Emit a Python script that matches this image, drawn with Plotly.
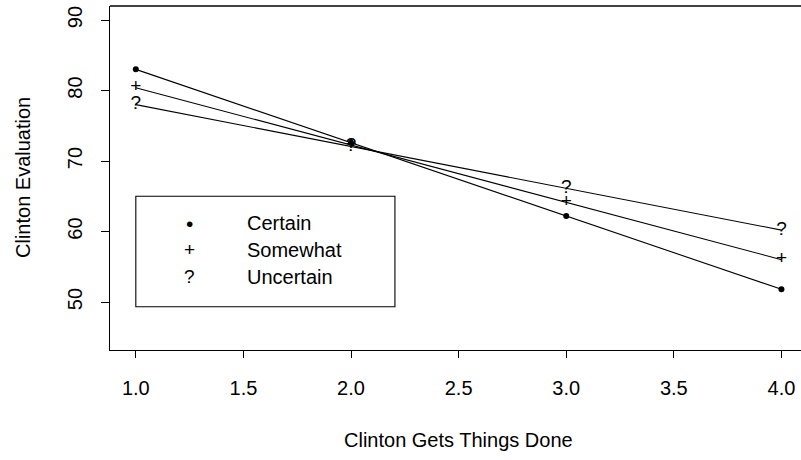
import plotly.graph_objects as go

# Clinton evaluation by "gets things done" rating, split by certainty
x_vals = [1, 2, 3, 4]
certain = [83.0, 72.6, 62.2, 51.8]
somewhat = [80.4, 72.3, 64.1, 56.0]
uncertain = [78.0, 72.1, 66.2, 60.2]

x_ticks = [1.0, 1.5, 2.0, 2.5, 3.0, 3.5, 4.0]
x_ticklabels = ["1.0", "1.5", "2.0", "2.5", "3.0", "3.5", "4.0"]
y_ticks = [50, 60, 70, 80, 90]
y_ticklabels = ["50", "60", "70", "80", "90"]

legend_labels = ["Certain", "Somewhat", "Uncertain"]
legend_symbols = ["\u2022", "+", "?"]

FONT = "Liberation Sans, Arial, Helvetica, sans-serif"
FS = 20
PCH = 19
LINE = dict(color="black", width=1.1)

fig = go.Figure()

fig.add_trace(go.Scatter(
    x=x_vals, y=uncertain, mode="lines+text", text=["?"] * 4,
    textposition="middle center", textfont=dict(family=FONT, size=PCH, color="black"),
    line=LINE, showlegend=False, hoverinfo="skip"))
fig.add_trace(go.Scatter(
    x=x_vals, y=somewhat, mode="lines+text", text=["+"] * 4,
    textposition="middle center", textfont=dict(family=FONT, size=PCH, color="black"),
    line=LINE, showlegend=False, hoverinfo="skip"))
fig.add_trace(go.Scatter(
    x=x_vals, y=certain, mode="lines+markers",
    marker=dict(symbol="circle", size=6, color="black"),
    line=LINE, showlegend=False, hoverinfo="skip"))

# legend box placed at (1, 65) in data units
leg_x0, leg_x1 = 1.0, 2.204
leg_y0, leg_y1 = 49.33, 65.0
fig.add_shape(type="rect", xref="x", yref="y", x0=leg_x0, x1=leg_x1, y0=leg_y0, y1=leg_y1,
              line=dict(color="black", width=1.1), fillcolor="white", layer="above")
leg_rows = [61.16, 57.38, 53.59]
for sym, lab, yy in zip(legend_symbols, legend_labels, leg_rows):
    fig.add_annotation(x=1.251, y=yy, xref="x", yref="y", text=sym, showarrow=False,
                       font=dict(family=FONT, size=PCH if sym != "\u2022" else 21, color="black"),
                       xanchor="center", yanchor="middle")
    fig.add_annotation(x=1.506, y=yy, xref="x", yref="y", text=lab, showarrow=False,
                       font=dict(family=FONT, size=FS, color="black"),
                       xanchor="left", yanchor="middle")

# top frame line (right side falls outside the canvas)
fig.add_shape(type="line", xref="paper", yref="paper", x0=0, x1=1, y0=1, y1=1,
              line=dict(color="black", width=1.3))

# axis titles
fig.add_annotation(x=0.5049, y=0, xref="paper", yref="paper", yshift=-90,
                   text="Clinton Gets Things Done", showarrow=False,
                   font=dict(family=FONT, size=FS, color="black"),
                   xanchor="center", yanchor="middle")
fig.add_annotation(x=0, y=0.5, xref="paper", yref="paper", xshift=-87,
                   text="Clinton Evaluation", showarrow=False, textangle=-90,
                   font=dict(family=FONT, size=FS, color="black"),
                   xanchor="center", yanchor="middle")

fig.update_layout(
    width=801, height=460,
    margin=dict(l=110, r=0, t=6, b=110),
    paper_bgcolor="white", plot_bgcolor="white",
    font=dict(family=FONT, size=FS, color="black"),
    xaxis=dict(range=[0.88, 4.0909], tickvals=x_ticks, ticktext=x_ticklabels,
               showgrid=False, zeroline=False, showline=True, linecolor="black", linewidth=1.3,
               ticks="outside", ticklen=7, tickwidth=1.1, tickcolor="black",
               ticklabelstandoff=13, tickfont=dict(family=FONT, size=FS, color="black")),
    yaxis=dict(range=[43.19, 91.99], tickvals=y_ticks, ticktext=y_ticklabels,
               showgrid=False, zeroline=False, showline=True, linecolor="black", linewidth=1.3,
               ticks="outside", ticklen=8, tickwidth=1.1, tickcolor="black", tickangle=-90,
               ticklabelstandoff=11, tickfont=dict(family=FONT, size=FS, color="black")),
)

fig.write_html("out.html")
